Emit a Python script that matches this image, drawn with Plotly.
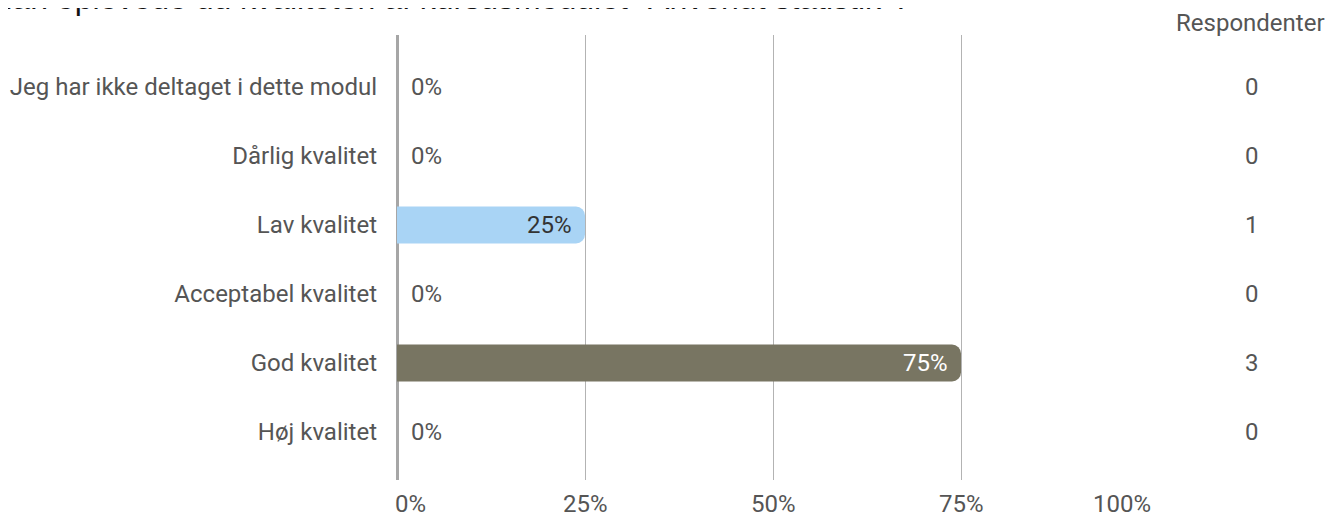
import plotly.graph_objects as go

title_text = 'Hvordan oplevede du kvaliteten af kursusmodulet "Anvendt statistik"?'
categories = ["Jeg har ikke deltaget i dette modul", "Dårlig kvalitet", "Lav kvalitet",
              "Acceptabel kvalitet", "God kvalitet", "Høj kvalitet"]
percent_values = [0, 0, 25, 0, 75, 0]
respondents = [0, 0, 1, 0, 3, 0]
bar_colors = ["#a9d4f5", "#a9d4f5", "#a9d4f5", "#787562", "#787562", "#787562"]
label_colors = ["#333333", "#333333", "#333333", "#ffffff", "#ffffff", "#ffffff"]
x_ticks = [0, 25, 50, 75, 100]
x_tick_labels = ["0%", "25%", "50%", "75%", "100%"]
count_header = "Respondenter"

W, H = 1343, 516
OFF = 8  # page body margin
# plot area in page pixels
PX0, PX1, PY0, PY1 = 397, 1149, 35, 480
L = PX0 - OFF
R = W - (PX1 - OFF)
T = PY0 - OFF
B = H - (PY1 - OFF)
plot_w = PX1 - PX0

FONT = "Roboto"
TXT = "#555555"
FS = 24

fig = go.Figure()
fig.add_trace(go.Bar(
    x=percent_values, y=categories, orientation="h",
    marker=dict(color=bar_colors, line=dict(width=0)),
    width=0.536, hoverinfo="skip",
))

ann = []
# value labels
for cat, v, c in zip(categories, percent_values, label_colors):
    if v == 0:
        ann.append(dict(x=0, y=cat, xref="x", yref="y", text=f"{v}%", showarrow=False,
                        xanchor="left", xshift=12, font=dict(family=FONT, size=FS, color=TXT)))
    else:
        ann.append(dict(x=v, y=cat, xref="x", yref="y", text=f"{v}%", showarrow=False,
                        xanchor="right", xshift=-11, font=dict(family=FONT, size=FS, color=c)))
# counts column
count_x = (1252 - PX0) / plot_w
for cat, n in zip(categories, respondents):
    ann.append(dict(x=count_x, y=cat, xref="paper", yref="y", text=str(n), showarrow=False,
                    xanchor="center", font=dict(family=FONT, size=FS, color=TXT)))
ann.append(dict(x=(1250 - PX0) / plot_w, y=1, xref="paper", yref="paper", text=count_header,
                showarrow=False, xanchor="center", yanchor="middle", yshift=12,
                font=dict(family=FONT, size=FS, color=TXT)))
# x tick labels
for i, (tv, tl) in enumerate(zip(x_ticks, x_tick_labels)):
    if i == 0:
        xa, xs = "left", -4
    elif i == len(x_ticks) - 1:
        xa, xs = "right", 4
    else:
        xa, xs = "center", 0
    ann.append(dict(x=tv, y=0, xref="x", yref="paper", text=tl, showarrow=False,
                    xanchor=xa, xshift=xs, yanchor="top", yshift=-8,
                    font=dict(family=FONT, size=FS, color=TXT)))
# clipped title
ann.append(dict(x=(912 - PX0) / plot_w, y=1, xref="paper", yref="paper", text=title_text,
                showarrow=False, xanchor="right", yanchor="bottom", yshift=17,
                font=dict(family="Liberation Sans, Arial", size=32, color="#111111")))

fig.update_layout(
    width=W, height=H,
    margin=dict(l=L, r=R, t=T, b=B, pad=0, autoexpand=False),
    paper_bgcolor="white", plot_bgcolor="white",
    showlegend=False,
    barcornerradius=9,
    annotations=ann,
    xaxis=dict(range=[0, 100], tickvals=x_ticks, showticklabels=False,
               showgrid=True, gridcolor="#b3b3b3", gridwidth=1,
               zeroline=True, zerolinecolor="#a6a6a6", zerolinewidth=3,
               showline=False, fixedrange=True, automargin=False),
    yaxis=dict(type="category", categoryorder="array", categoryarray=categories,
               range=[5.696, -0.754], showgrid=False, zeroline=False, showline=False,
               ticks="", ticklabelstandoff=19, automargin=False,
               tickfont=dict(family=FONT, size=FS, color=TXT), fixedrange=True),
)

fig.write_html("out.html")
